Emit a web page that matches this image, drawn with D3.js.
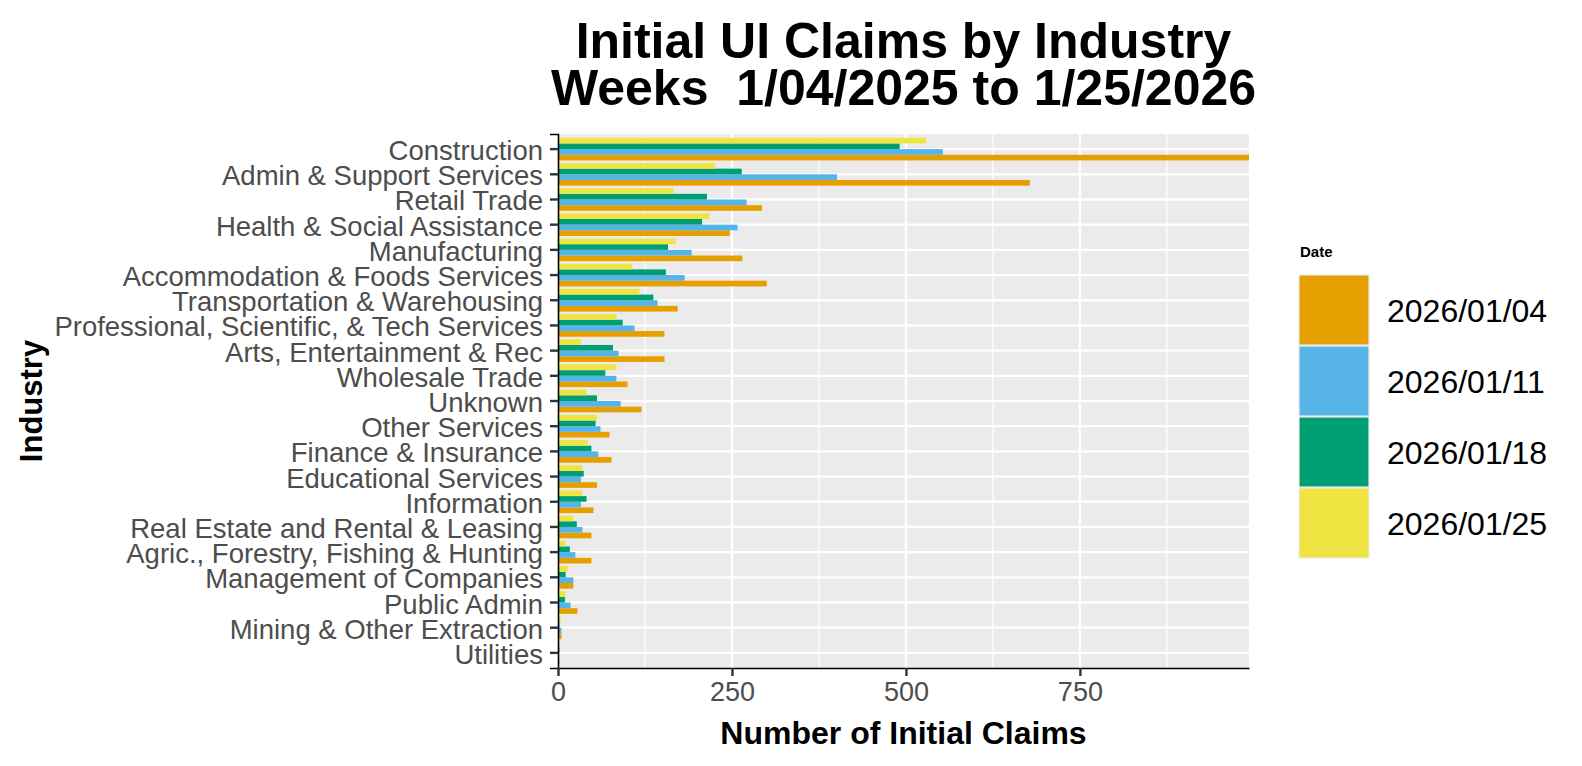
<!DOCTYPE html>
<html>
<head>
<meta charset="utf-8">
<script src="https://cdn.jsdelivr.net/npm/d3@7"></script>
<style>
  body { margin: 0; background: #fff; }
  text { font-family: "Liberation Sans", Arial, sans-serif; }
</style>
</head>
<body>
<div id="chart"></div>
<script>
var width = 1582;
var height = 766;

// industries, top to bottom
var industries = [
  "Construction", "Admin & Support Services", "Retail Trade",
  "Health & Social Assistance", "Manufacturing", "Accommodation & Foods Services",
  "Transportation & Warehousing", "Professional, Scientific, & Tech Services",
  "Arts, Entertainment & Rec", "Wholesale Trade", "Unknown", "Other Services",
  "Finance & Insurance", "Educational Services", "Information",
  "Real Estate and Rental & Leasing", "Agric., Forestry, Fishing & Hunting",
  "Management of Companies", "Public Admin", "Mining & Other Extraction", "Utilities"
];

var dates = ["2026/01/04", "2026/01/11", "2026/01/18", "2026/01/25"];
var colors = ["#E69F00", "#56B4E9", "#009E73", "#F0E442"];

var claims0104 = [993, 678, 293, 247, 265, 300, 172, 153, 153, 100, 120, 74, 77, 56, 51, 48, 48, 22, 28, 5, 2];
var claims0111 = [553, 401, 271, 258, 192, 182, 143, 110, 87, 84, 90, 61, 58, 33, 33, 35, 25, 22, 18, 5, 0];
var claims0118 = [491, 264, 214, 207, 158, 155, 137, 93, 79, 68, 56, 54, 48, 37, 41, 27, 17, 11, 10, 2, 2];
var claims0125 = [529, 226, 166, 218, 169, 107, 117, 84, 33, 84, 41, 56, 43, 35, 35, 22, 11, 14, 11, 4, 2];

var xTicks = [0, 250, 500, 750];
var xMinor = [125, 375, 625, 875];

var series = [claims0104, claims0111, claims0118, claims0125];

var panel = { left: 558, right: 1249, top: 134, bottom: 668 };

var svg = d3.select("#chart").append("svg")
  .attr("width", width)
  .attr("height", height);

var rows = [];
industries.forEach((ind, i) => {
  dates.forEach((dt, j) => {
    rows.push({ industry: ind, date: dt, value: series[j][i], color: colors[j] });
  });
});

var x = d3.scaleLinear()
  .domain([0, d3.max(rows, d => d.value)])
  .range([panel.left, panel.right]);

var y = d3.scaleBand()
  .domain(industries)
  .range([panel.top, panel.bottom])
  .paddingInner(0)
  .paddingOuter(0.1);

// bars inside a group: latest week on top
var sub = d3.scaleBand()
  .domain(dates.slice().reverse())
  .range([0, y.bandwidth() * 0.9]);

var color = d3.scaleOrdinal().domain(dates).range(colors);

// panel
svg.append("rect")
  .attr("x", panel.left)
  .attr("y", panel.top)
  .attr("width", panel.right - panel.left)
  .attr("height", panel.bottom - panel.top)
  .attr("fill", "#EBEBEB");

svg.append("g").selectAll("line")
  .data(xMinor.filter(d => x(d) < panel.right))
  .enter().append("line")
  .attr("x1", d => x(d)).attr("x2", d => x(d))
  .attr("y1", panel.top).attr("y2", panel.bottom)
  .attr("stroke", "#fff").attr("stroke-width", 1.2);

svg.append("g").selectAll("line")
  .data(xTicks)
  .enter().append("line")
  .attr("x1", d => x(d)).attr("x2", d => x(d))
  .attr("y1", panel.top).attr("y2", panel.bottom)
  .attr("stroke", "#fff").attr("stroke-width", 2.3);

svg.append("g").selectAll("line")
  .data(industries)
  .enter().append("line")
  .attr("x1", panel.left).attr("x2", panel.right)
  .attr("y1", d => y(d) + y.bandwidth() / 2)
  .attr("y2", d => y(d) + y.bandwidth() / 2)
  .attr("stroke", "#fff").attr("stroke-width", 2.3);

// bars
svg.append("g").selectAll("rect")
  .data(rows)
  .enter().append("rect")
  .attr("x", x(0))
  .attr("y", d => y(d.industry) + y.bandwidth() * 0.05 + sub(d.date))
  .attr("width", d => x(d.value) - x(0))
  .attr("height", sub.bandwidth())
  .attr("fill", d => color(d.date));

// axes
var yAxis = svg.append("g")
  .attr("transform", "translate(" + panel.left + ",0)")
  .call(d3.axisLeft(y).tickSize(8).tickPadding(7));
yAxis.select(".domain").attr("stroke", "#000").attr("stroke-width", 1.6);
yAxis.selectAll(".tick line").attr("stroke", "#333").attr("stroke-width", 2.4);
yAxis.selectAll(".tick text")
  .attr("fill", "#4D4D4D")
  .attr("font-size", 27.5)
  .attr("dy", "0.4em")
  .attr("font-family", "Liberation Sans, Arial, sans-serif");

var xAxis = svg.append("g")
  .attr("transform", "translate(0," + panel.bottom + ")")
  .call(d3.axisBottom(x).tickValues(xTicks).tickSize(8).tickPadding(6).tickSizeOuter(0));
xAxis.select(".domain").attr("stroke", "#000").attr("stroke-width", 1.6);
xAxis.selectAll(".tick line").attr("stroke", "#333").attr("stroke-width", 2.4);
xAxis.selectAll(".tick text")
  .attr("fill", "#4D4D4D")
  .attr("font-size", 27)
  .attr("font-family", "Liberation Sans, Arial, sans-serif");

// titles
var cx = (panel.left + panel.right) / 2;
svg.append("text")
  .attr("x", cx).attr("y", 57.5)
  .attr("text-anchor", "middle")
  .attr("font-size", 50).attr("font-weight", "bold")
  .text("Initial UI Claims by Industry");
svg.append("text")
  .attr("x", cx).attr("y", 104.5)
  .attr("text-anchor", "middle")
  .attr("font-size", 50).attr("font-weight", "bold")
  .style("white-space", "pre")
  .text("Weeks  1/04/2025 to 1/25/2026");

svg.append("text")
  .attr("x", cx).attr("y", 744)
  .attr("text-anchor", "middle")
  .attr("font-size", 32).attr("font-weight", "bold")
  .text("Number of Initial Claims");

svg.append("text")
  .attr("transform", "translate(42," + ((panel.top + panel.bottom) / 2) + ") rotate(-90)")
  .attr("text-anchor", "middle")
  .attr("font-size", 31).attr("font-weight", "bold")
  .text("Industry");

// legend
var legend = svg.append("g").attr("transform", "translate(1299,0)");
legend.append("text")
  .attr("x", 1).attr("y", 257)
  .attr("font-size", 15).attr("font-weight", "bold")
  .text("Date");

var keys = legend.selectAll("g.key")
  .data(dates)
  .enter().append("g")
  .attr("class", "key")
  .attr("transform", (d, i) => "translate(0," + (275 + i * 71) + ")");
keys.append("rect")
  .attr("width", 70).attr("height", 70)
  .attr("fill", d => color(d))
  .attr("stroke", "#EBEBEB").attr("stroke-width", 1.2);
keys.append("text")
  .attr("x", 88).attr("y", 36)
  .attr("dominant-baseline", "central")
  .attr("font-size", 32)
  .text(d => d);
</script>
</body>
</html>
